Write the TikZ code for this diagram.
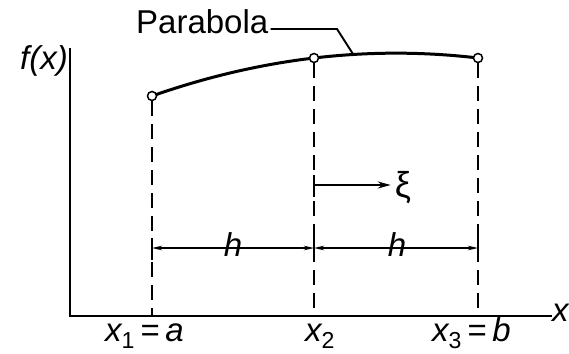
\documentclass[tikz,border=0pt]{standalone}
\usepackage{fontspec}
\setmainfont{Liberation Sans}
\usetikzlibrary{arrows.meta}
\begin{document}
\begin{tikzpicture}[x=1pt,y=-1pt,
 axis/.style={line width=2.4pt},
 dashv/.style={line width=2.2pt, dash pattern=on 15pt off 8pt},
 solidtick/.style={line width=2.2pt},
 ptc/.style={circle, draw, fill=white, line width=1.5pt, inner sep=0pt, minimum size=9pt},
 lbl/.style={font=\fontsize{33}{38}\selectfont, inner sep=0pt},
 dimline/.style={line width=1.9pt, {Stealth[length=10pt,width=4.5pt]}-{Stealth[length=10pt,width=4.5pt]}},
 lead/.style={line width=1.9pt}
]
\useasboundingbox (0,0) rectangle (569,353);
% axes
\coordinate (O) at (70,316);
\coordinate (Ytop) at (70,48);
\coordinate (Xend) at (552,316);
\draw[axis] (Ytop) -- (O) -- (Xend);
\node[lbl, anchor=base west] (xlab) at (552,321) {\itshape x};
\node[lbl, anchor=base east] (flab) at (68,69) {\itshape f(x)};
% parabola
\draw[line width=3pt] plot[domain=152:478, samples=60] (\x, {58 + ((\x-314)*0.026824)^2 - 0.118*(\x-314)});
\node[ptc] (p1) at (152,96) {};
\node[ptc] (p2) at (314,58) {};
\node[ptc] (p3) at (478,58) {};
% dashed verticals
\draw[dashv] (p1) -- (p1 |- O);
\draw[dashv] (p2) -- (p2 |- O);
\draw[dashv] (p3) -- (p3 |- O);
% leader
\node[lbl, anchor=base west] (par) at (136,34) {Parabola};
\coordinate (lk) at (337,29);
\coordinate (lt) at (353,54);
\draw[lead] ([xshift=2pt]par.east |- lk) -- (lk) -- (lt);
% xi arrow
\coordinate (xt1) at (314,175);
\coordinate (xt2) at (314,197);
\draw[solidtick] (xt1) -- (xt2);
\node[lbl, font=\fontsize{36}{40}\selectfont] (xi) at (403,188) {ξ};
\coordinate (xs) at (314,185);
\draw[line width=1.9pt, -{Stealth[length=13pt,width=7pt]}] (xs) -- ([xshift=-4pt]xi.west |- xs);
% h dimensions
\coordinate (h1) at (152,248);
\coordinate (h2) at (314,248);
\coordinate (h3) at (478,248);
\draw[solidtick] (152,238) -- (152,260);
\draw[solidtick] (314,238) -- (314,260);
\draw[solidtick] (478,238) -- (478,260);
\draw[dimline] (h1) -- (h2);
\draw[dimline] (h2) -- (h3);
\node[lbl] (hA) at (233,245) {\itshape h};
\node[lbl] (hB) at (397,245) {\itshape h};
% bottom labels
\node[lbl, anchor=base west] (l1) at (105,341) {\itshape x\textsubscript{\upshape 1}\kern5pt=\kern6pt a};
\node[lbl, anchor=base west] (l2) at (305,341) {\itshape x\textsubscript{\upshape 2}};
\node[lbl, anchor=base west] (l3) at (432,341) {\itshape x\textsubscript{\upshape 3}\kern5pt=\kern6pt b};
\end{tikzpicture}
\end{document}
